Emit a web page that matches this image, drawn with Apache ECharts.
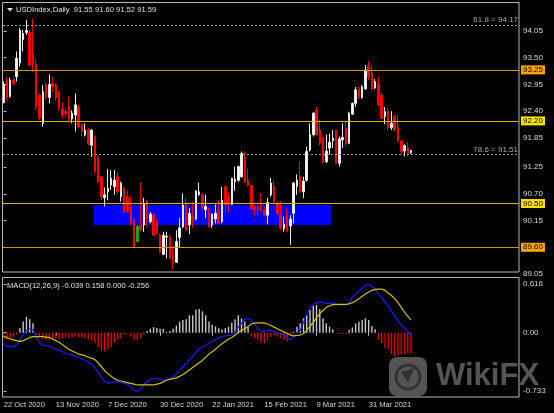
<!DOCTYPE html>
<html>
<head>
<meta charset="utf-8">
<script src="https://cdn.jsdelivr.net/npm/echarts@6/dist/echarts.min.js"></script>
<style>html,body{margin:0;padding:0;background:#000;}#c{width:554px;height:413px;}</style>
</head>
<body>
<div id="c"></div>
<script>
// ---------- data ----------
const opens  = [92.58,93.04,92.70,93.04,93.11,93.39,93.87,94.02,94.02,93.62,93.36,92.73,92.15,92.94,92.68,92.97,92.94,92.80,92.45,92.39,92.49,92.24,92.32,92.49,92.12,91.91,92.01,91.70,91.88,91.46,91.05,90.62,90.74,90.88,90.85,91.05,90.64,90.81,90.64,90.44,90.16,89.72,90.05,90.06,90.54,90.13,90.26,90.14,89.85,89.45,89.81,89.82,89.45,89.29,89.80,90.02,90.50,90.06,90.23,90.18,90.68,90.68,90.37,90.37,90.06,90.18,90.35,90.13,90.85,90.64,90.48,90.95,90.98,91.05,91.46,90.98,90.87,90.44,90.44,90.41,90.37,90.26,90.68,90.85,90.50,90.30,89.98,90.26,90.04,90.30,90.85,91.05,90.74,90.98,91.60,91.92,92.42,92.01,91.86,91.36,91.64,91.79,92.01,91.33,91.81,92.05,91.74,92.34,92.56,92.86,92.68,92.86,93.32,93.18,92.88,92.97,92.73,92.29,92.39,92.06,92.29,92.06,91.79,91.58,91.65,91.55];
const highs  = [93.01,93.11,93.09,93.11,93.63,94.11,94.07,94.28,94.07,94.30,93.49,92.77,92.94,92.98,93.16,93.11,92.97,92.82,92.58,92.45,92.70,92.42,92.77,92.53,92.15,92.15,92.05,92.03,91.90,91.50,91.07,90.83,91.21,91.19,91.19,91.16,90.95,90.85,90.76,90.64,90.20,90.06,90.94,90.62,90.57,90.33,90.30,90.17,89.89,89.92,89.92,89.85,89.62,89.95,90.21,90.71,90.61,90.41,90.54,90.77,90.93,90.71,90.68,90.41,90.30,90.48,90.57,90.85,90.86,90.73,91.03,91.26,91.28,91.57,91.57,91.21,90.88,90.47,90.47,90.71,90.44,90.62,91.03,90.98,90.54,90.55,90.23,90.41,90.26,90.95,91.10,91.36,91.05,91.67,92.15,92.38,92.49,92.22,91.88,91.92,91.94,92.01,92.02,91.88,92.15,92.18,92.39,92.58,92.90,92.90,92.94,93.35,93.43,93.34,93.06,93.11,92.77,92.49,92.47,92.40,92.32,92.33,91.81,91.72,91.77,91.60];
const lows   = [92.56,92.61,92.68,92.94,93.01,93.32,93.63,93.97,93.32,93.21,92.42,92.22,92.08,92.65,92.56,92.80,92.63,92.42,92.25,92.29,92.19,92.15,91.98,92.05,91.88,91.88,91.70,91.46,91.12,90.92,90.57,90.44,90.57,90.78,90.68,90.71,90.54,90.30,90.30,90.06,89.60,89.70,89.94,89.92,90.02,90.09,89.82,89.86,89.48,89.44,89.37,89.35,89.14,89.28,89.59,89.99,89.94,89.87,90.00,90.16,90.66,90.39,90.20,90.00,90.00,90.09,90.07,90.09,90.33,90.33,90.47,90.76,90.95,91.03,90.92,90.85,90.37,90.23,90.26,90.33,90.23,90.07,90.64,90.50,90.26,89.96,89.92,89.92,89.65,90.09,90.68,90.71,90.61,90.95,91.57,91.88,91.90,91.70,91.33,91.33,91.51,91.64,91.31,91.26,91.64,91.67,91.72,92.32,92.49,92.65,92.66,92.84,93.04,92.84,92.86,92.51,92.24,92.13,92.03,92.01,91.99,91.76,91.53,91.47,91.47,91.52];
const closes = [92.95,92.67,93.04,92.97,93.49,94.07,94.00,94.06,93.35,93.38,92.49,92.25,92.80,92.70,92.95,92.91,92.67,92.47,92.32,92.35,92.25,92.36,92.53,92.08,91.98,92.01,91.74,92.01,91.16,90.95,90.64,90.68,90.81,91.02,90.98,90.74,90.92,90.33,90.33,90.09,89.61,90.03,89.96,90.50,90.20,90.28,89.85,89.89,89.50,89.85,89.83,89.37,89.30,89.72,90.00,90.47,89.95,90.30,90.16,90.76,90.74,90.42,90.44,90.02,90.28,90.30,90.09,90.57,90.48,90.50,91.02,91.00,91.26,91.53,90.95,90.87,90.39,90.37,90.37,90.39,90.26,90.52,90.92,90.54,90.30,89.99,90.07,89.93,90.18,90.92,90.98,90.74,90.96,91.57,91.92,92.36,91.91,91.74,91.36,91.58,91.76,91.84,91.33,91.83,91.86,91.74,92.36,92.56,92.84,92.68,92.90,93.25,93.11,92.86,93.01,92.54,92.25,92.39,92.06,92.15,92.01,91.79,91.57,91.69,91.51,91.59];
const greenBars = [41];

const macdHist = [-0.06,-0.08,-0.07,-0.05,-0.02,0.06,0.14,0.20,0.17,0.12,-0.02,-0.06,-0.08,-0.09,-0.09,-0.08,-0.07,-0.08,-0.07,-0.06,-0.07,-0.06,-0.05,-0.06,-0.06,-0.07,-0.09,-0.10,-0.13,-0.18,-0.22,-0.24,-0.21,-0.18,-0.12,-0.09,-0.07,-0.02,-0.01,-0.05,-0.09,-0.10,-0.07,-0.02,0.02,0.05,0.07,0.06,0.05,0.05,0.01,0.02,0.05,0.09,0.14,0.16,0.17,0.22,0.22,0.29,0.30,0.27,0.22,0.14,0.10,0.08,0.055,0.04,0.055,0.076,0.126,0.168,0.22,0.18,0.14,0.076,-0.05,-0.07,-0.09,-0.126,-0.135,-0.093,-0.05,-0.03,-0.05,-0.07,-0.09,-0.11,-0.03,0.013,0.076,0.118,0.181,0.223,0.286,0.337,0.35,0.295,0.181,0.118,0.076,0.042,-0.008,-0.017,-0.017,-0.017,0.034,0.067,0.118,0.139,0.16,0.181,0.16,0.084,0.042,-0.09,-0.13,-0.19,-0.21,-0.27,-0.29,-0.28,-0.27,-0.27,-0.26,-0.256];
const macdMain = [-0.15,-0.17,-0.18,-0.18,-0.15,-0.09,-0.03,0.03,0.05,0.04,-0.06,-0.13,-0.16,-0.16,-0.17,-0.19,-0.21,-0.22,-0.24,-0.26,-0.27,-0.28,-0.30,-0.31,-0.33,-0.35,-0.37,-0.40,-0.44,-0.50,-0.56,-0.62,-0.64,-0.63,-0.62,-0.62,-0.63,-0.64,-0.65,-0.69,-0.72,-0.74,-0.71,-0.66,-0.62,-0.59,-0.58,-0.58,-0.59,-0.60,-0.59,-0.58,-0.56,-0.52,-0.47,-0.43,-0.39,-0.34,-0.30,-0.25,-0.20,-0.18,-0.16,-0.13,-0.11,-0.09,-0.07,-0.05,-0.04,-0.035,-0.03,0.01,0.07,0.12,0.17,0.18,0.16,0.11,0.05,0.02,0.013,0.03,0.03,0.01,0.0,-0.02,-0.03,-0.06,-0.09,-0.05,0.0,0.03,0.13,0.24,0.31,0.36,0.38,0.39,0.38,0.37,0.37,0.38,0.36,0.35,0.35,0.35,0.37,0.45,0.49,0.52,0.56,0.60,0.61,0.59,0.55,0.49,0.45,0.39,0.34,0.27,0.21,0.15,0.10,0.06,0.02,-0.039];
const macdSignal = [-0.05,-0.06,-0.08,-0.09,-0.10,-0.11,-0.10,-0.08,-0.06,-0.05,-0.05,-0.05,-0.05,-0.055,-0.06,-0.08,-0.10,-0.12,-0.15,-0.18,-0.21,-0.23,-0.25,-0.27,-0.28,-0.29,-0.31,-0.32,-0.34,-0.38,-0.43,-0.48,-0.52,-0.55,-0.58,-0.60,-0.61,-0.62,-0.63,-0.64,-0.65,-0.66,-0.66,-0.66,-0.66,-0.66,-0.66,-0.65,-0.64,-0.62,-0.60,-0.59,-0.58,-0.57,-0.55,-0.53,-0.50,-0.47,-0.44,-0.41,-0.38,-0.35,-0.31,-0.27,-0.24,-0.21,-0.17,-0.14,-0.11,-0.08,-0.06,-0.03,0.0,0.03,0.05,0.08,0.11,0.12,0.125,0.125,0.12,0.11,0.09,0.07,0.05,0.03,0.01,-0.01,-0.03,-0.04,-0.035,-0.03,-0.01,0.03,0.08,0.13,0.19,0.24,0.28,0.32,0.34,0.355,0.358,0.358,0.358,0.358,0.365,0.38,0.40,0.43,0.46,0.49,0.515,0.535,0.547,0.55,0.55,0.535,0.50,0.47,0.43,0.38,0.32,0.26,0.21,0.158];
const macdHeaderVals = [-0.039, 0.158, 0.000, -0.256];

const dateTickIdx  = [0, 16, 32, 48, 64, 80, 96, 112];
const dateTickText = ['22 Oct 2020','13 Nov 2020','7 Dec 2020','30 Dec 2020','22 Jan 2021','15 Feb 2021','9 Mar 2021','31 Mar 2021'];
const priceTicks = [94.05, 93.50, 92.95, 92.40, 91.85, 91.25, 90.70, 90.15, 89.05];
const macdTicks = [0.616, 0, -0.733];
const macdTickText = ['0.616', '0.00', '-0.733'];

const hLevels = [93.25, 92.20, 90.50, 89.60];
const fibLevels = [94.17, 91.51];
const fibNames = ['61.8', '78.6'];
const zoneX = [27.7, 100.4];
const zoneY = [90.06, 90.47];

// ---------- styles ----------
const FONT = "'Liberation Sans', Arial, sans-serif";
const hLineColors = ['#e08e00', '#d8b400', '#d8b400', '#e08e00'];
const hBoxColors  = ['#ffa500', '#ffe000', '#ffe000', '#ffa500'];
const TXT = '#d8d8d8';

const N = closes.length;
const candleData = [];
for (let i = 0; i < N; i++) {
  const item = { value: [i, opens[i], closes[i], lows[i], highs[i]] };
  if (greenBars.indexOf(i) >= 0) {
    item.itemStyle = { color: '#00b000', color0: '#00b000', borderColor: '#00b000', borderColor0: '#00b000' };
  }
  candleData.push(item);
}
const histData = macdHist.map((v, i) => [i, v]);
const mainData = macdMain.map((v, i) => [i, v]);
const sigData = macdSignal.map((v, i) => [i, v]);

const markLines = [];
hLevels.forEach((v, k) => {
  markLines.push({
    yAxis: v,
    lineStyle: { color: hLineColors[k], width: 1, type: 'solid' },
    label: { show: true, position: 'end', distance: 2, formatter: () => v.toFixed(2),
      backgroundColor: hBoxColors[k], color: '#000', padding: [1, 2, 0, 2], fontSize: 8, fontFamily: FONT }
  });
});
fibLevels.forEach((v, k) => {
  markLines.push({
    yAxis: v,
    lineStyle: { color: '#9a9a9a', width: 1, type: [2, 2] },
    label: { show: true, position: 'insideEndTop', distance: 1, formatter: () => fibNames[k] + ' = ' + v.toFixed(2),
      color: '#a8a8a8', fontSize: 8, fontFamily: FONT }
  });
});
const lastClose = closes[N - 1];
markLines.push({
  yAxis: lastClose,
  lineStyle: { opacity: 0 },
  label: { show: true, position: 'end', distance: 2, formatter: () => lastClose.toFixed(2),
    backgroundColor: '#ffffff', color: '#000', padding: [1, 2, 0, 2], fontSize: 8, fontFamily: FONT }
});

const header = 'USDIndex,Daily  ' + [opens[N-1], highs[N-1], lows[N-1], closes[N-1]].map(v => v.toFixed(2)).join(' ');
const macdHeader = 'MACD(12,26,9) ' + macdHeaderVals.map(v => v.toFixed(3)).join(' ');

const XMIN = -0.2, XMAX = 158.13;

const chart = echarts.init(document.getElementById('c'), null, { renderer: 'canvas', width: 554, height: 413 });
chart.setOption({
  backgroundColor: '#000',
  animation: false,
  textStyle: { fontFamily: FONT },
  grid: [
    { left: 3, top: 3, width: 516, height: 273 },
    { left: 3, top: 278, width: 516, height: 119 }
  ],
  xAxis: [
    { type: 'value', gridIndex: 0, min: XMIN, max: XMAX, show: false,
      axisLine: { show: false }, axisTick: { show: false }, axisLabel: { show: false }, splitLine: { show: false } },
    { type: 'value', gridIndex: 1, min: XMIN, max: XMAX,
      axisLine: { show: false }, splitLine: { show: false },
      axisTick: { show: true, customValues: dateTickIdx, length: 3, lineStyle: { color: '#c0c0c0' } },
      axisLabel: { show: true, customValues: dateTickIdx, align: 'left', margin: 4, color: TXT, fontSize: 7.6, fontFamily: FONT,
        formatter: v => dateTickText[dateTickIdx.indexOf(Math.round(v))] || '' } }
  ],
  yAxis: [
    { type: 'value', gridIndex: 0, position: 'right', min: 89.009, max: 94.626,
      axisLine: { show: false }, splitLine: { show: false },
      axisTick: { show: true, customValues: priceTicks, length: 3, lineStyle: { color: '#c0c0c0' } },
      axisLabel: { show: true, customValues: priceTicks, margin: 4, color: TXT, fontSize: 8, fontFamily: FONT,
        formatter: v => v.toFixed(2) } },
    { type: 'value', gridIndex: 1, position: 'right', min: -0.8119, max: 0.6907,
      axisLine: { show: false }, splitLine: { show: false },
      axisTick: { show: true, customValues: macdTicks, length: 3, lineStyle: { color: '#c0c0c0' } },
      axisLabel: { show: true, customValues: macdTicks, margin: 4, color: TXT, fontSize: 8, fontFamily: FONT,
        formatter: v => { let best = 0; macdTicks.forEach((t, k) => { if (Math.abs(t - v) < Math.abs(macdTicks[best] - v)) best = k; }); return macdTickText[best]; } } }
  ],
  series: [
    { type: 'candlestick', xAxisIndex: 0, yAxisIndex: 0, data: candleData, barWidth: 2, z: 3,
      itemStyle: { color: '#ffffff', color0: '#ff0000', borderColor: '#e8e8e8', borderColor0: '#ff0000', borderWidth: 1 },
      markArea: { silent: true, z: 1, itemStyle: { color: '#0000ff', opacity: 1 },
        data: [[{ xAxis: zoneX[0], yAxis: zoneY[1] }, { xAxis: zoneX[1], yAxis: zoneY[0] }]] },
      markLine: { silent: true, symbol: ['none', 'none'], animation: false, data: markLines } },
    { type: 'bar', xAxisIndex: 1, yAxisIndex: 1, data: histData, barWidth: 1.4, z: 2,
      itemStyle: { color: p => (p.value[1] >= 0 ? '#c8c8c8' : '#e00000') } },
    { type: 'line', xAxisIndex: 1, yAxisIndex: 1, data: mainData, showSymbol: false, z: 4,
      lineStyle: { color: '#1a1aff', width: 1.2 } },
    { type: 'line', xAxisIndex: 1, yAxisIndex: 1, data: sigData, showSymbol: false, z: 4,
      lineStyle: { color: '#d2c000', width: 1.2 } }
  ],
  graphic: [
    { type: 'rect', z: 99, silent: true, shape: { x: 3, y: 264, width: 8, height: 13 }, style: { fill: '#000' } },
    { type: 'rect', z: 100, silent: true, shape: { x: 2.5, y: 2.5, width: 516.5, height: 269.5 },
      style: { fill: 'none', stroke: '#b8b8b8', lineWidth: 1 } },
    { type: 'rect', z: 100, silent: true, shape: { x: 2.5, y: 277.5, width: 516.5, height: 119.5 },
      style: { fill: 'none', stroke: '#b8b8b8', lineWidth: 1 } },
    { type: 'polygon', z: 100, silent: true, shape: { points: [[7, 8], [13, 8], [10, 11.5]] }, style: { fill: '#e0e0e0' } },
    { type: 'text', z: 100, silent: true, x: 16, y: 10,
      style: { text: header, fill: '#e4e4e4', font: '7.6px ' + FONT, verticalAlign: 'middle' } },
    { type: 'text', z: 100, silent: true, x: 7, y: 286,
      style: { text: macdHeader, fill: '#e4e4e4', font: '7.6px ' + FONT, verticalAlign: 'middle' } },
    { type: 'group', z: 110, silent: true, children: [
      { type: 'rect', shape: { x: 389, y: 357, width: 38, height: 39, r: 8 }, style: { fill: 'rgba(140,140,140,0.6)' } },
      { type: 'circle', shape: { cx: 408, cy: 377, r: 12 }, style: { fill: 'none', stroke: 'rgba(30,30,30,0.6)', lineWidth: 3 } },
      { type: 'polygon', shape: { points: [[401, 372], [414, 368], [408, 383]] }, style: { fill: 'rgba(30,30,30,0.6)' } },
      { type: 'text', x: 436, y: 376, style: { text: 'WikiFX', fill: 'rgba(140,140,140,0.6)', font: 'bold 31px ' + FONT, verticalAlign: 'middle' } }
    ] }
  ]
});
</script>
</body>
</html>
